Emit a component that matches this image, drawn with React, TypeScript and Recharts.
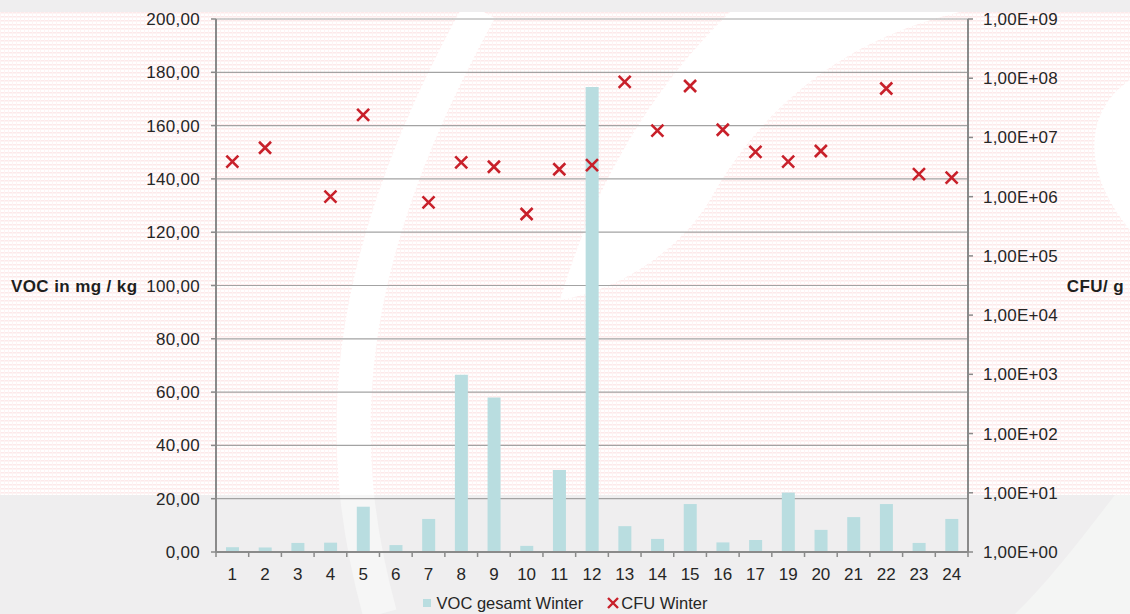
import React from 'react';
import { ComposedChart, Bar, Scatter, XAxis, YAxis, CartesianGrid, Legend } from 'recharts';

const samples = ['1', '2', '3', '4', '5', '6', '7', '8', '9', '10', '11', '12', '13', '14', '15', '16', '17', '19', '20', '21', '22', '23', '24'];
const vocWinter = [1.8, 1.7, 3.4, 3.5, 17.0, 2.6, 12.4, 66.5, 58.0, 2.3, 30.8, 174.5, 9.7, 4.9, 18.0, 3.6, 4.5, 22.3, 8.3, 13.1, 18.0, 3.4, 12.4];
const cfuWinter = [3.9e6, 6.7e6, null, 1.0e6, 2.4e7, null, 8.0e5, 3.8e6, 3.2e6, 5.1e5, 2.9e6, 3.4e6, 8.7e7, 1.3e7, 7.4e7, 1.35e7, 5.7e6, 3.9e6, 5.9e6, null, 6.7e7, 2.4e6, 2.1e6];
const vocTicks = [0, 20, 40, 60, 80, 100, 120, 140, 160, 180, 200];
const cfuTicks = [1, 1e1, 1e2, 1e3, 1e4, 1e5, 1e6, 1e7, 1e8, 1e9];

const data = samples.map((s, i) => ({ sample: s, voc: vocWinter[i], cfu: cfuWinter[i] }));

const FONT = '"Liberation Sans", Arial, sans-serif';
const TEXT = '#262626';
const AXIS = '#8a8a8a';
const BAR = '#b9dde0';
const CROSS = '#c8202a';
const PLOT_W = 752;
const STEP = PLOT_W / samples.length;

const fmtVoc = (v: number) => v.toFixed(2).replace('.', ',');
const fmtCfu = (v: number) => {
  const e = Math.round(Math.log10(v));
  return `1,00E+${e < 10 ? '0' + e : e}`;
};

function SampleTick(props: any) {
  const { x, y, payload, index } = props;
  const axisY = y - 8;
  return (
    <g>
      <line x1={x - STEP / 2} x2={x - STEP / 2} y1={axisY} y2={axisY + 5} stroke={AXIS} strokeWidth={1.5} />
      {index === samples.length - 1 && (
        <line x1={x + STEP / 2} x2={x + STEP / 2} y1={axisY} y2={axisY + 5} stroke={AXIS} strokeWidth={1.5} />
      )}
      <text x={x} y={y + 20} textAnchor="middle" fill={TEXT} fontSize={17} fontFamily={FONT}>
        {payload.value}
      </text>
    </g>
  );
}

function Cross(props: any) {
  const { cx, cy, payload } = props;
  if (payload?.cfu == null || !Number.isFinite(cx) || !Number.isFinite(cy)) return <g />;
  const r = 6;
  return (
    <path
      d={`M${cx - r},${cy - r}L${cx + r},${cy + r}M${cx + r},${cy - r}L${cx - r},${cy + r}`}
      stroke={CROSS}
      strokeWidth={2.6}
      fill="none"
    />
  );
}

function SeriesLegend() {
  return (
    <div style={{ display: 'flex', justifyContent: 'center', alignItems: 'center', fontFamily: FONT, fontSize: 16.5, color: TEXT, lineHeight: '16px', whiteSpace: 'nowrap' }}>
      <span style={{ display: 'inline-block', width: 8, height: 8, background: BAR, marginRight: 6 }} />
      <span>VOC gesamt Winter</span>
      <svg width={12} height={12} style={{ marginLeft: 24, marginRight: 2 }}>
        <path d="M1,1L11,11M11,1L1,11" stroke={CROSS} strokeWidth={2.4} />
      </svg>
      <span>CFU Winter</span>
    </div>
  );
}

// faint watermark behind the chart
function Backdrop() {
  return (
    <svg width={1130} height={614} style={{ position: 'absolute', left: 0, top: 0 }}>
      <defs>
        <pattern id="pinkweave" width={4} height={4} patternUnits="userSpaceOnUse">
          <rect width={4} height={4} fill="#ffffff" />
          <rect width={4} height={1.5} fill="#fde9ea" />
          <rect width={1} height={4} fill="#fef3f3" />
        </pattern>
        <clipPath id="upper">
          <rect x={0} y={12} width={1130} height={483} />
        </clipPath>
        <clipPath id="lower">
          <rect x={0} y={495} width={1130} height={119} />
        </clipPath>
      </defs>
      <rect width={1130} height={614} fill="#efeeef" />
      <rect y={12} width={1130} height={483} fill="url(#pinkweave)" />
      <g clipPath="url(#upper)" fill="#ffffff">
        <path d="M380,614 C335,450 335,270 480,10" stroke="#ffffff" strokeWidth={34} fill="none" />
        <path d="M560,300 C590,200 640,100 730,12 L960,12 C840,40 760,110 710,200 C680,250 620,290 560,300 Z" />
        <path d="M1130,80 C1085,110 1080,170 1130,230 Z" />
      </g>
      <g clipPath="url(#lower)">
        <path d="M380,614 C335,450 335,270 480,10" stroke="#f6f6f6" strokeWidth={34} fill="none" />
        <path d="M1115,495 C1080,540 1050,580 1015,614 L1130,614 L1130,495 Z" fill="#f4f5f4" />
      </g>
    </svg>
  );
}

export default function App() {
  return (
    <div style={{ position: 'absolute', left: 0, top: 0, width: 1130, height: 614, overflow: 'hidden' }}>
      <Backdrop />
      <div style={{ position: 'absolute', left: 0, top: 0 }}>
        <ComposedChart width={1130} height={614} data={data} margin={{ top: 19, right: 0, bottom: 0, left: 0 }}>
          <CartesianGrid yAxisId="left" vertical={false} stroke="#a3a3a3" strokeWidth={1.2} />
          <XAxis
            dataKey="sample"
            interval={0}
            height={62}
            tickLine={false}
            tickSize={6}
            tickMargin={2}
            axisLine={{ stroke: AXIS, strokeWidth: 2 }}
            tick={<SampleTick />}
          />
          <YAxis
            yAxisId="left"
            width={216}
            domain={[0, 200]}
            ticks={vocTicks}
            interval={0}
            tickFormatter={fmtVoc}
            tickSize={5}
            tickMargin={11}
            axisLine={{ stroke: AXIS, strokeWidth: 2 }}
            tickLine={{ stroke: AXIS, strokeWidth: 1.5 }}
            tick={{ fill: TEXT, fontSize: 17, fontFamily: FONT, letterSpacing: 0.3 }}
            label={{ value: 'VOC in mg / kg', position: 'insideLeft', offset: 11, style: { fill: '#1e1e1e', fontSize: 17, fontWeight: 700, fontFamily: FONT, letterSpacing: 0.4 } }}
          />
          <YAxis
            yAxisId="right"
            orientation="right"
            width={162}
            scale="log"
            domain={[1, 1e9]}
            allowDataOverflow
            ticks={cfuTicks}
            interval={0}
            tickFormatter={fmtCfu}
            tickSize={5}
            tickMargin={10}
            axisLine={{ stroke: AXIS, strokeWidth: 2 }}
            tickLine={{ stroke: AXIS, strokeWidth: 1.5 }}
            tick={{ fill: TEXT, fontSize: 17, fontFamily: FONT, letterSpacing: 0.2 }}
            label={{ value: 'CFU/ g', position: 'insideRight', offset: 6, style: { fill: '#1e1e1e', fontSize: 17, fontWeight: 700, fontFamily: FONT, letterSpacing: 0.4 } }}
          />
          <Bar yAxisId="left" dataKey="voc" name="VOC gesamt Winter" fill={BAR} barSize={13} isAnimationActive={false} />
          <Scatter yAxisId="right" dataKey="cfu" name="CFU Winter" shape={<Cross />} isAnimationActive={false} />
          <Legend layout="horizontal" verticalAlign="middle" align="center" wrapperStyle={{ top: 595, left: 0, width: 1130 }} content={<SeriesLegend />} />
        </ComposedChart>
      </div>
    </div>
  );
}
